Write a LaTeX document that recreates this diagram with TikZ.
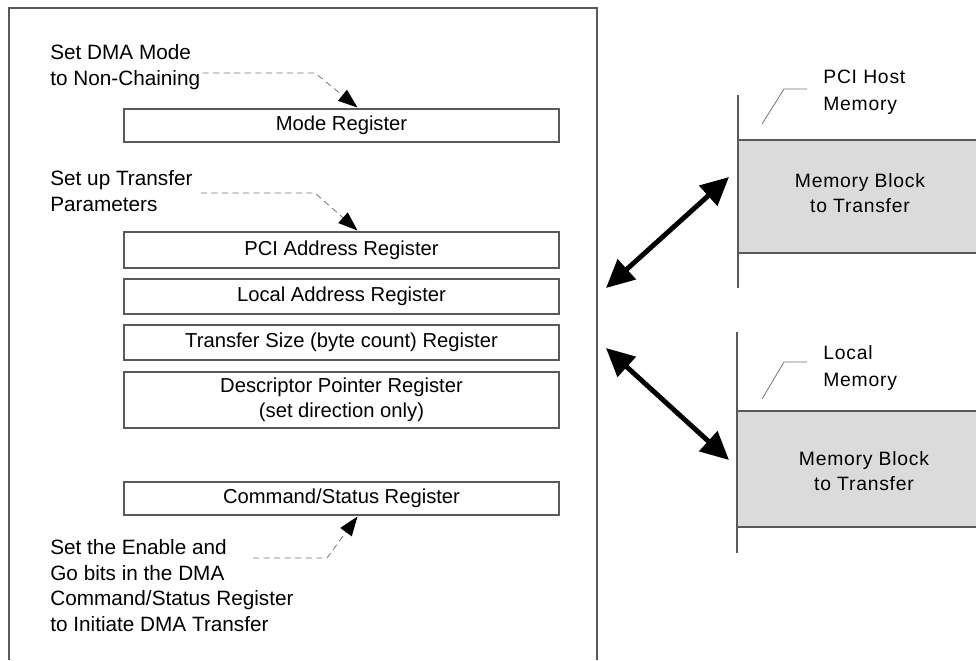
\documentclass[tikz,border=0pt]{standalone}
\usepackage{fontspec}
\setmainfont{Liberation Sans}
\newfontfamily\memfont[LetterSpace=4]{Liberation Sans}
\usetikzlibrary{calc,arrows.meta,positioning}

\tikzset{
  regbox/.style={draw=black!65,line width=0.6pt,minimum width=87mm,
    align=center,inner sep=0pt,font=\fontsize{11.5}{14.2}\selectfont},
  note/.style={anchor=north west,align=left,inner sep=0pt,
    font=\fontsize{11.8}{14.6}\selectfont},
  leader/.style={draw=black!55,line width=0.45pt,dash pattern=on 3.5pt off 2.5pt,
    -{Triangle[length=11pt,width=8pt,color=black]}},
  memnote/.style={anchor=north west,align=left,inner sep=0pt,
    font=\memfont\fontsize{11}{15.4}\selectfont},
  memtext/.style={align=center,inner sep=0pt,
    font=\memfont\fontsize{11}{14.2}\selectfont},
  thinline/.style={draw=black!55,line width=0.45pt},
  memline/.style={draw=black!65,line width=0.6pt},
  bigarrow/.style={line width=2.8pt,
    {Triangle[length=16pt,width=15pt]}-{Triangle[length=16pt,width=15pt]}}
}

\begin{document}
\begin{tikzpicture}[x=0.2mm,y=-0.2mm]
	\useasboundingbox (0,0) rectangle (976,660);
	% frame round the registers
	\draw[memline] (9,660) -- (9,8) -- (597,8) -- (597,660);

	% registers
	\node[regbox,minimum height=6.6mm] (mode) at (341.5,125.5) {Mode Register};
	\node[regbox,minimum height=7.2mm] (pciaddr) at (341.5,250) {PCI Address Register};
	\node[regbox,minimum height=7mm] (locaddr) at (341.5,296.5) {Local Address Register};
	\node[regbox,minimum height=7mm] (xfersize) at (341.5,342.5) {Transfer Size (byte count) Register};
	\node[regbox,minimum height=11.2mm] (descptr) at (341.5,400) {Descriptor Pointer Register\\(set direction only)};
	\node[regbox,minimum height=6.6mm] (cmdstat) at (341.5,498.5) {Command/Status Register};

	% steps
	\node[note] (setmode) at (50,44) {Set DMA Mode\\to Non-Chaining};
	\node[note] (setxfer) at (50,170) {Set up Transfer\\Parameters};
	\node[note] (setgo) at (50,539) {Set the Enable and\\Go bits in the DMA\\Command/Status Register\\to Initiate DMA Transfer};

	\coordinate (b1) at (315,73);
	\coordinate (b2) at (315,193);
	\coordinate (g1) at (253,558);
	\coordinate (g2) at (327,558);
	\draw[leader] ($(setmode.east |- b1)+(2,0)$) -- (b1) -- ($(mode.north west)+(234,-1)$);
	\draw[leader] ($(setxfer.east |- b2)+(8,0)$) -- (b2) -- ($(pciaddr.north west)+(234,-1)$);
	\draw[leader] (g1) -- (g2) -- ($(cmdstat.south west)+(234,1)$);

	% PCI host memory
	\fill[black!14] (738,140) rectangle (976,253);
	\draw[memline] (738,95) -- (738,288);
	\draw[memline] (738,140) -- (976,140) (738,253) -- (976,253);
	\node[memtext] (hostblk) at (860,193) {Memory Block\\to Transfer};
	\node[memnote] (hostmem) at (823,70) {PCI Host\\Memory};
	\draw[thinline] (762,124) -- (784,89) -- ($(hostmem.west |- 0,89)+(-16,0)$);

	% local memory
	\fill[black!14] (737,411) rectangle (976,527);
	\draw[memline] (737,332) -- (737,553);
	\draw[memline] (737,411) -- (976,411) (737,527) -- (976,527);
	\node[memtext] (locblk) at (864,471) {Memory Block\\to Transfer};
	\node[memnote] (locmem) at (823,345) {Local\\Memory};
	\draw[thinline] (762,399) -- (784,362) -- ($(locmem.west |- 0,362)+(-16,0)$);

	% transfers
	\coordinate (h1) at (606,288);
	\coordinate (h2) at (729,177);
	\coordinate (l1) at (606,348);
	\coordinate (l2) at (729,460);
	\draw[bigarrow] (h1) -- (h2);
	\draw[bigarrow] (l1) -- (l2);
\end{tikzpicture}
\end{document}
